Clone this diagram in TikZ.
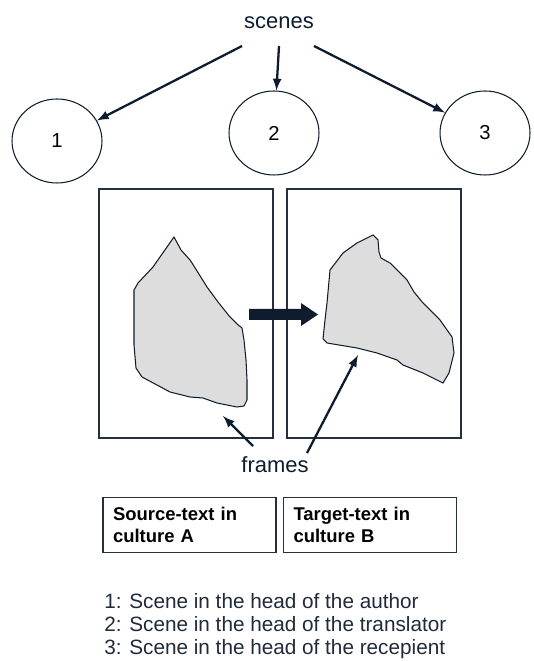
\documentclass[tikz,border=0pt]{standalone}
\usepackage{fontspec}
\setmainfont{Liberation Sans}
\usepackage{xcolor}
\usetikzlibrary{positioning,shapes.geometric}
\definecolor{navy}{HTML}{0F1C2E}
\definecolor{blobgray}{HTML}{DDDDDD}
\tikzset{
	scenenode/.style={ellipse, draw=navy, line width=0.6pt, minimum width=1.8cm, minimum height=1.68cm, font=\fontsize{11.5}{14}\selectfont},
	framebox/.style={rectangle, draw=navy!80!gray, line width=0.7pt, minimum width=3.48cm, minimum height=4.98cm},
	textbox/.style={rectangle, draw=navy!80!gray, line width=0.7pt, minimum width=3.46cm, minimum height=1.1cm, text width=3.06cm, inner xsep=0.2cm, align=left, font=\fontsize{10.5}{12.5}\selectfont\bfseries},
	blob/.style={draw=navy, fill=blobgray, line width=0.6pt},
	myarrow/.style={->, >=latex, draw=navy, line width=1.3pt}
}
\begin{document}
\begin{tikzpicture}[x=0.02cm, y=-0.02cm]
	\useasboundingbox (0,0) rectangle (533,661);
	\node[font=\fontsize{12.5}{15}\selectfont, text=navy] at (279,23) (sc) {scenes};
	\node[scenenode] at (57,141) (s1) {1};
	\node[scenenode] at (274,133) (s2) {2};
	\node[scenenode] at (485,133) (s3) {3};
	%Lines
	\coordinate (a1) at (242,46);
	\coordinate (a2) at (279,46);
	\coordinate (a3) at (314,46);
	\draw[myarrow] (a1) -- (s1);
	\draw[myarrow] (a2) -- (s2);
	\draw[myarrow] (a3) -- (s3);
	
	\node[framebox] at (186,313.5) (fA) {};
	\node[framebox] at (374,313.5) (fB) {};
	% frames
	\draw[blob] (174,237) -- (181,250) -- (190,260) -- (192,263) -- (207,287) -- (218,302) -- (230,317) -- (237,324) -- (242,328) -- (244,340) -- (246,360) -- (247,380) -- (247,400) -- (244,406) -- (237,407) -- (217,403) -- (203,398) -- (190,397) -- (170,392) -- (157,385) -- (142,377) -- (136,368) -- (134,345) -- (134,330) -- (134,290) -- (138,283) -- (153,267) -- (167,247) -- cycle;
	\draw[blob] (373,235) -- (378,240) -- (379,252) -- (381,258) -- (390,263) -- (407,280) -- (414,292) -- (423,303) -- (440,320) -- (452,337) -- (454,353) -- (449,373) -- (443,383) -- (423,373) -- (403,365) -- (397,360) -- (377,353) -- (357,348) -- (327,343) -- (323,339) -- (325,320) -- (327,303) -- (330,270) -- (343,253) -- (357,243) -- cycle;
	\coordinate (pA) at (223,416);
	\coordinate (pB) at (358,355);
	
	% transfer arrow
	\fill[navy] (249,309) -- (301,309) -- (301,303) -- (318,314.5) -- (301,326) -- (301,320) -- (249,320) -- cycle;
	
	\node[font=\fontsize{12.5}{15}\selectfont, text=navy] at (275,465) (fr) {frames};
	\coordinate (f1) at (253,446);
	\coordinate (f2) at (307,453);
	\draw[myarrow] (f1) -- (pA);
	\draw[myarrow] (f2) -- (pB);
	
	\node[textbox] at (189.5,525) (tA) {Source-text in\\culture A};
	\node[textbox] at (370,525) (tB) {Target-text in\\culture B};
	
	\node[align=left, anchor=north west, inner sep=0pt, text=navy!85!gray, font=\fontsize{11.8}{13}\selectfont] at (104,593) (leg) {1: Scene in the head of the author\\2: Scene in the head of the translator\\3: Scene in the head of the recepient};
\end{tikzpicture}
\end{document}
